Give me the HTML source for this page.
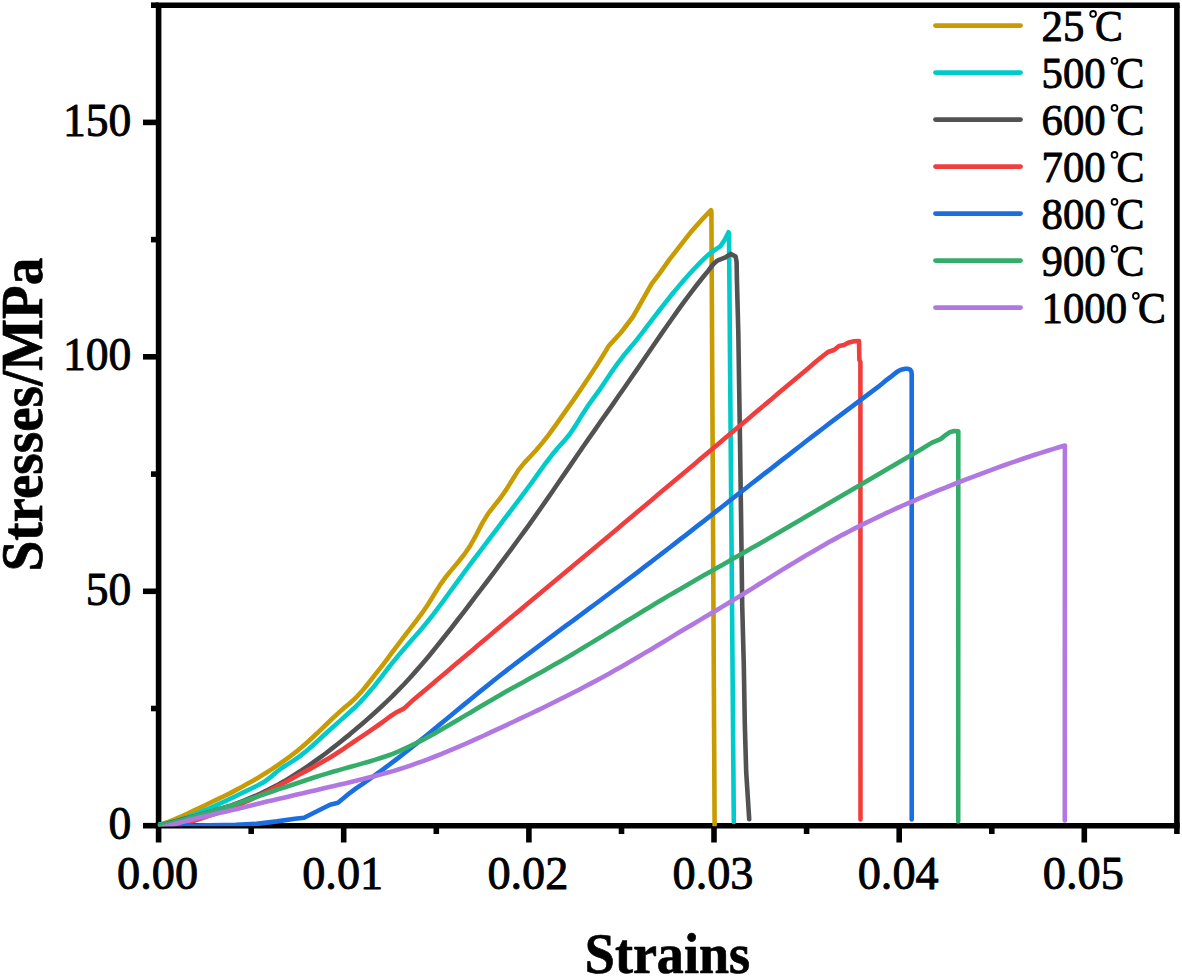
<!DOCTYPE html>
<html><head><meta charset="utf-8"><title>Stress-strain curves</title>
<style>
html,body{margin:0;padding:0;background:#fff;}
body{width:1182px;height:976px;overflow:hidden;font-family:"Liberation Serif",serif;}
svg{display:block;}
text{font-family:"Liberation Serif",serif;fill:#000;stroke:#000;stroke-width:0.9px;stroke-linejoin:round;}
.tk{font-size:46.3px;}
.lg{font-size:44px;}
.ax{font-weight:bold;stroke-width:0.7px;}
</style></head><body>
<svg width="1182" height="976" viewBox="0 0 1182 976">
<rect width="1182" height="976" fill="#fff"/>
<g stroke="#000" stroke-width="5.6" fill="none" stroke-linecap="butt">
<path d="M155.8,825.7 H1179.7"/>
<path d="M155.8,5.2 H1179.7"/>
<path d="M158.6,5.2 V825.7"/>
<path d="M1176.9,5.2 V825.7"/>
<path d="M158.6,825.7 V842.5"/>
<path d="M251.2,825.7 V834.0"/>
<path d="M343.7,825.7 V842.5"/>
<path d="M436.3,825.7 V834.0"/>
<path d="M528.9,825.7 V842.5"/>
<path d="M621.5,825.7 V834.0"/>
<path d="M714.0,825.7 V842.5"/>
<path d="M806.6,825.7 V834.0"/>
<path d="M899.2,825.7 V842.5"/>
<path d="M991.8,825.7 V834.0"/>
<path d="M1084.3,825.7 V842.5"/>
<path d="M1176.9,825.7 V834.0"/>
<path d="M158.6,825.7 H143.0"/>
<path d="M158.6,708.5 H151.0"/>
<path d="M158.6,591.3 H143.0"/>
<path d="M158.6,474.1 H151.0"/>
<path d="M158.6,356.8 H143.0"/>
<path d="M158.6,239.6 H151.0"/>
<path d="M158.6,122.4 H143.0"/>
<path d="M158.6,5.2 H151.0"/>
</g>
<clipPath id="pc"><rect x="157.9" y="0" width="1030.0" height="826.2"/></clipPath>
<g fill="none" stroke-width="4.6" stroke-linejoin="round" stroke-linecap="round" clip-path="url(#pc)">
<path d="M157.0,825.7 L163.0,823.7 L169.0,821.6 L175.1,819.2 L181.1,816.5 L187.1,813.8 L193.1,810.9 L199.2,808.1 L205.2,805.2 L211.2,802.3 L217.2,799.4 L223.3,796.5 L229.3,793.6 L235.3,790.4 L241.3,787.2 L247.4,783.8 L253.4,780.4 L259.4,776.9 L265.4,773.2 L271.5,769.4 L277.5,765.4 L283.5,761.2 L289.5,756.8 L295.6,752.2 L301.6,747.2 L307.6,742.0 L313.6,736.5 L319.6,730.8 L325.7,725.0 L331.7,719.2 L337.7,713.6 L343.7,708.3 L349.8,703.2 L355.8,697.8 L361.8,691.4 L367.8,684.0 L373.9,676.2 L379.9,668.6 L385.9,660.8 L391.9,652.7 L398.0,644.6 L404.0,636.6 L410.0,628.8 L416.0,621.1 L422.1,613.0 L428.1,604.2 L434.1,594.5 L440.1,584.9 L446.2,576.4 L452.2,569.1 L458.2,562.0 L464.2,554.5 L470.2,545.7 L476.3,534.8 L482.3,523.1 L488.3,513.4 L494.3,505.7 L500.4,498.0 L506.4,489.4 L512.4,479.7 L518.4,470.1 L524.5,462.6 L530.5,456.2 L536.5,449.8 L542.5,442.6 L548.6,434.8 L554.6,426.6 L560.6,418.2 L566.6,409.7 L572.7,401.1 L578.7,392.4 L584.7,383.5 L590.7,374.4 L596.8,365.2 L602.8,355.7 L608.8,345.9 L621.0,332.5 L632.8,317.0 L638.8,306.5 L651.6,283.9 L659.1,274.1 L669.7,259.2 L681.4,244.2 L691.4,231.4 L701.4,220.2 L711.0,210.2 L711.4,212.0 L714.6,825.0" stroke="#C89B00"/>
<path d="M156.0,824.9 L162.0,824.2 L168.0,823.1 L174.0,821.6 L180.0,819.8 L186.0,817.8 L192.0,815.5 L198.0,813.1 L204.0,810.6 L210.0,808.0 L216.0,805.3 L222.0,802.6 L227.9,799.9 L233.9,797.0 L239.9,794.0 L245.9,791.1 L251.9,788.2 L257.9,785.3 L263.9,782.1 L269.9,777.7 L275.9,772.5 L281.9,768.0 L287.9,764.1 L293.9,760.4 L299.9,756.1 L305.9,751.4 L311.9,746.2 L317.9,740.7 L323.9,735.2 L329.9,729.7 L335.9,724.4 L341.9,719.1 L347.9,713.8 L353.9,708.3 L359.9,702.4 L365.8,696.0 L371.8,689.1 L377.8,681.6 L383.8,673.9 L389.8,666.0 L395.8,658.6 L401.8,651.5 L407.8,644.6 L413.8,637.8 L419.8,630.9 L425.8,623.8 L431.8,616.3 L437.8,608.4 L443.8,600.3 L449.8,592.0 L455.8,583.8 L461.8,575.6 L467.8,567.5 L473.8,559.5 L479.8,551.6 L485.8,543.6 L491.8,535.7 L497.8,527.8 L503.7,519.9 L509.7,512.0 L515.7,504.1 L521.7,496.1 L527.7,488.0 L533.7,479.8 L539.7,471.4 L545.7,463.2 L551.7,455.3 L557.7,448.0 L563.7,441.4 L569.7,434.3 L575.7,425.4 L581.7,415.4 L587.7,406.2 L593.7,397.9 L599.7,389.6 L605.7,380.7 L611.7,371.8 L617.7,363.3 L623.7,355.5 L629.7,348.3 L635.7,341.1 L641.6,333.6 L647.6,325.7 L653.6,317.8 L659.6,310.0 L665.6,302.3 L671.6,294.8 L677.6,287.6 L683.6,280.5 L689.6,273.8 L695.6,267.3 L701.6,261.2 L707.6,255.3 L714.3,250.2 L720.3,246.4 L724.8,239.7 L728.5,232.2 L729.0,233.5 L733.8,822.0" stroke="#00CBCB"/>
<path d="M159.0,826.0 L165.0,824.1 L170.9,822.5 L176.9,820.9 L182.9,819.3 L188.9,817.7 L194.8,816.1 L200.8,814.5 L206.8,812.8 L212.7,811.1 L218.7,809.3 L224.7,807.5 L230.6,805.6 L236.6,803.4 L242.6,801.1 L248.6,798.7 L254.5,796.2 L260.5,793.5 L266.5,790.6 L272.4,787.6 L278.4,784.5 L284.4,781.1 L290.4,777.5 L296.3,773.8 L302.3,770.0 L308.3,765.9 L314.2,761.7 L320.2,757.4 L326.2,753.0 L332.1,748.4 L338.1,743.7 L344.1,738.9 L350.1,734.1 L356.0,729.1 L362.0,724.0 L368.0,718.8 L373.9,713.5 L379.9,708.0 L385.9,702.4 L391.9,696.7 L397.8,690.7 L403.8,684.5 L409.8,678.0 L415.7,671.4 L421.7,664.5 L427.7,657.4 L433.6,650.2 L439.6,642.8 L445.6,635.3 L451.6,627.7 L457.5,620.0 L463.5,612.3 L469.5,604.5 L475.4,596.7 L481.4,588.9 L487.4,581.0 L493.4,573.1 L499.3,565.1 L505.3,557.1 L511.3,549.1 L517.2,541.0 L523.2,532.8 L529.2,524.6 L535.2,516.2 L541.1,507.7 L547.1,499.1 L553.1,490.5 L559.0,481.8 L565.0,473.1 L571.0,464.4 L576.9,455.7 L582.9,447.0 L588.9,438.4 L594.9,429.9 L600.8,421.3 L606.8,412.8 L612.8,404.3 L618.7,395.8 L624.7,387.2 L630.7,378.5 L636.7,369.9 L642.6,361.2 L648.6,352.5 L654.6,343.8 L660.5,335.1 L666.5,326.5 L672.5,318.0 L678.4,309.6 L684.4,301.3 L690.4,293.3 L696.4,285.5 L702.3,278.0 L708.3,270.7 L713.0,264.5 L717.3,260.6 L724.8,257.7 L730.8,253.9 L735.6,256.6 L736.6,262.0 L736.9,279.4 L738.3,332.0 L740.0,441.0 L741.2,527.0 L742.2,605.0 L743.8,665.0 L744.8,724.0 L746.2,772.0 L749.2,819.3" stroke="#525252"/>
<path d="M159.0,828.1 L165.1,827.7 L171.2,826.8 L177.2,825.4 L183.3,823.8 L189.4,822.0 L195.5,820.2 L201.6,818.3 L207.6,816.3 L213.7,814.3 L219.8,812.2 L225.9,810.0 L231.9,807.7 L238.0,805.2 L244.1,802.5 L250.2,799.8 L256.3,796.9 L262.3,794.0 L268.4,791.0 L274.5,787.9 L280.6,784.7 L286.7,781.5 L292.7,778.2 L298.8,774.8 L304.9,771.6 L311.0,768.4 L317.1,765.0 L323.1,761.5 L329.2,757.9 L335.3,754.2 L341.4,750.3 L347.4,746.1 L353.5,742.0 L359.6,737.9 L365.7,733.8 L371.8,729.7 L377.8,725.5 L383.9,721.1 L390.0,716.5 L395.6,712.8 L403.8,708.6 L412.0,701.1 L418.0,696.0 L424.0,690.9 L430.0,685.9 L436.0,680.8 L442.0,675.8 L448.0,670.7 L454.0,665.6 L460.0,660.6 L466.0,655.5 L472.0,650.4 L478.0,645.3 L484.0,640.2 L490.0,635.2 L496.0,630.1 L502.0,625.0 L508.0,620.0 L514.0,615.0 L520.0,610.1 L526.0,605.1 L532.0,600.1 L538.0,595.1 L544.0,590.1 L550.0,585.1 L556.0,580.1 L562.0,575.1 L568.0,570.0 L574.0,565.0 L580.0,560.0 L586.0,555.0 L592.0,550.0 L598.0,545.0 L604.0,539.9 L610.0,534.9 L616.0,529.9 L622.0,524.8 L628.0,519.8 L634.0,514.8 L640.0,509.7 L646.0,504.7 L652.0,499.7 L658.0,494.6 L664.0,489.6 L670.0,484.5 L676.0,479.5 L682.0,474.5 L688.0,469.4 L694.0,464.4 L700.0,459.3 L706.0,454.3 L712.0,449.2 L718.0,444.2 L724.0,439.1 L730.0,434.1 L736.0,429.0 L742.0,424.0 L748.0,418.9 L754.0,413.8 L760.0,408.8 L766.0,403.7 L772.0,398.7 L778.0,393.6 L784.0,388.6 L790.0,383.5 L796.0,378.5 L802.0,373.4 L808.0,368.4 L814.0,363.3 L820.0,358.3 L828.0,352.0 L834.0,350.0 L839.0,346.0 L844.0,345.0 L849.0,342.4 L854.0,341.2 L859.0,341.0 L859.4,360.0 L860.4,362.0 L860.5,819.5" stroke="#F03E3E"/>
<path d="M159.0,825.5 L195.0,825.6 L236.0,824.9 L256.5,823.9 L277.0,821.4 L295.0,818.8 L304.0,817.8 L320.0,809.8 L330.0,804.8 L338.0,802.8 L350.0,792.8 L356.0,788.4 L362.0,784.4 L368.0,780.2 L374.0,775.9 L380.0,771.6 L386.0,767.2 L392.0,762.7 L398.0,758.1 L404.0,753.5 L410.0,748.7 L416.0,743.9 L422.0,739.1 L428.0,734.2 L434.0,729.3 L440.0,724.4 L446.0,719.4 L452.0,714.5 L458.0,709.5 L464.0,704.6 L470.0,699.7 L476.0,694.8 L482.0,689.9 L488.0,685.1 L494.0,680.3 L500.0,675.5 L506.0,670.9 L512.0,666.2 L518.0,661.7 L524.0,657.1 L530.0,652.6 L536.0,648.1 L542.0,643.6 L548.0,639.1 L554.0,634.6 L560.0,630.2 L566.0,625.7 L572.0,621.3 L578.0,616.8 L584.0,612.4 L590.0,607.9 L596.0,603.5 L602.0,599.0 L608.0,594.5 L614.0,590.0 L620.1,585.5 L626.1,580.9 L632.1,576.4 L638.1,571.8 L644.1,567.2 L650.1,562.6 L656.1,558.0 L662.1,553.4 L668.1,548.7 L674.1,544.1 L680.1,539.4 L686.1,534.8 L692.1,530.1 L698.1,525.4 L704.1,520.8 L710.1,516.1 L716.1,511.4 L722.1,506.7 L728.1,502.0 L734.1,497.3 L740.1,492.7 L746.1,488.0 L752.1,483.3 L758.1,478.6 L764.1,473.9 L770.1,469.3 L776.1,464.6 L782.1,459.9 L788.1,455.3 L794.1,450.6 L800.1,446.0 L806.1,441.3 L812.1,436.7 L818.1,432.1 L824.1,427.5 L830.1,422.9 L836.1,418.4 L842.1,413.8 L848.1,409.3 L854.1,404.8 L860.1,400.3 L866.1,395.8 L872.1,391.3 L878.1,386.9 L885.0,381.2 L891.7,376.1 L895.5,373.0 L898.6,370.8 L902.0,369.4 L905.4,368.7 L908.0,368.8 L910.1,369.6 L911.4,371.5 L911.7,374.0 L911.7,819.5" stroke="#1A6EE0"/>
<path d="M159.0,826.1 L165.0,824.4 L171.0,822.9 L177.0,821.3 L183.0,819.7 L189.0,818.0 L195.0,816.3 L200.9,814.6 L206.9,812.9 L212.9,811.1 L218.9,809.3 L224.9,807.5 L230.9,805.6 L236.9,803.6 L242.9,801.6 L248.9,799.5 L254.9,797.5 L260.9,795.4 L266.9,793.3 L272.9,791.3 L278.8,789.2 L284.8,787.2 L290.8,785.2 L296.8,783.2 L302.8,781.2 L308.8,779.2 L314.8,777.3 L320.8,775.4 L326.8,773.6 L332.8,771.8 L338.8,770.1 L344.8,768.4 L350.7,766.7 L356.7,765.1 L362.7,763.4 L368.7,761.7 L374.7,759.9 L380.7,758.0 L386.7,756.0 L392.7,753.8 L398.7,751.4 L404.7,748.7 L410.7,745.9 L416.7,742.9 L422.7,739.9 L428.6,736.7 L434.6,733.4 L440.6,730.0 L446.6,726.5 L452.6,723.0 L458.6,719.5 L464.6,715.9 L470.6,712.4 L476.6,708.8 L482.6,705.2 L488.6,701.7 L494.6,698.2 L500.6,694.7 L506.5,691.3 L512.5,688.0 L518.5,684.7 L524.5,681.4 L530.5,678.0 L536.5,674.7 L542.5,671.4 L548.5,668.0 L554.5,664.6 L560.5,661.2 L566.5,657.7 L572.5,654.2 L578.4,650.6 L584.4,647.0 L590.4,643.4 L596.4,639.8 L602.4,636.1 L608.4,632.4 L614.4,628.7 L620.4,625.0 L626.4,621.3 L632.4,617.6 L638.4,614.0 L644.4,610.3 L650.4,606.7 L656.3,603.0 L662.3,599.5 L668.3,595.9 L674.3,592.4 L680.3,588.9 L686.3,585.4 L692.3,582.0 L698.3,578.5 L704.3,575.1 L710.3,571.7 L716.3,568.3 L722.3,564.9 L728.3,561.5 L734.2,558.1 L740.2,554.7 L746.2,551.2 L752.2,547.8 L758.2,544.4 L764.2,540.9 L770.2,537.5 L776.2,534.0 L782.2,530.5 L788.2,527.0 L794.2,523.6 L800.2,520.1 L806.1,516.6 L812.1,513.1 L818.1,509.6 L824.1,506.1 L830.1,502.5 L836.1,499.0 L842.1,495.5 L848.1,492.0 L854.1,488.5 L860.1,485.0 L866.1,481.5 L872.1,478.0 L878.1,474.5 L884.0,471.0 L890.0,467.5 L896.0,464.0 L902.0,460.5 L908.0,457.0 L914.0,453.5 L920.0,450.0 L932.0,442.6 L938.1,440.2 L940.8,438.9 L946.2,434.6 L950.3,431.9 L954.4,431.0 L958.3,431.3 L958.2,821.5" stroke="#34AD6A"/>
<path d="M159.0,828.6 L165.0,826.8 L171.0,825.1 L177.0,823.5 L183.0,821.9 L189.0,820.3 L195.0,818.8 L201.0,817.3 L207.0,815.9 L213.0,814.5 L219.0,813.1 L225.0,811.7 L231.0,810.3 L237.0,808.9 L243.0,807.4 L249.0,805.9 L255.0,804.5 L261.0,803.1 L267.0,801.6 L273.0,800.2 L279.0,798.8 L285.0,797.4 L291.0,796.0 L297.0,794.6 L303.0,793.2 L309.0,791.8 L315.0,790.4 L321.0,789.0 L327.0,787.6 L333.0,786.2 L339.0,784.8 L345.0,783.4 L351.0,782.0 L357.0,780.5 L363.0,779.1 L369.0,777.6 L375.0,776.0 L381.0,774.4 L387.0,772.8 L393.0,771.1 L399.0,769.3 L405.0,767.4 L411.0,765.3 L417.0,763.2 L423.0,761.1 L429.0,758.8 L435.0,756.5 L441.0,754.1 L447.0,751.7 L453.0,749.2 L459.0,746.6 L465.0,744.0 L471.0,741.4 L477.0,738.7 L483.0,736.0 L489.0,733.2 L495.0,730.4 L501.0,727.6 L507.0,724.8 L513.0,722.0 L519.0,719.2 L525.0,716.3 L531.0,713.5 L537.0,710.6 L543.0,707.7 L549.0,704.8 L555.0,701.8 L561.0,698.8 L567.0,695.8 L573.0,692.7 L579.0,689.7 L585.0,686.5 L591.0,683.4 L597.0,680.2 L603.0,676.9 L609.0,673.7 L614.9,670.3 L620.9,666.9 L626.9,663.5 L632.9,660.0 L638.9,656.5 L644.9,652.9 L650.9,649.4 L656.9,645.8 L662.9,642.2 L668.9,638.6 L674.9,634.9 L680.9,631.3 L686.9,627.8 L692.9,624.2 L698.9,620.6 L704.9,617.1 L710.9,613.5 L716.9,610.0 L722.9,606.4 L728.9,602.8 L734.9,599.1 L740.9,595.5 L746.9,591.8 L752.9,588.1 L758.9,584.3 L764.9,580.6 L770.9,576.9 L776.9,573.1 L782.9,569.4 L788.9,565.8 L794.9,562.1 L800.9,558.5 L806.9,554.9 L812.9,551.4 L818.9,547.9 L824.9,544.5 L830.9,541.1 L836.9,537.9 L842.9,534.6 L848.9,531.5 L854.9,528.4 L860.9,525.4 L866.9,522.4 L872.9,519.5 L878.9,516.6 L884.9,513.7 L890.9,511.0 L896.9,508.2 L902.9,505.5 L908.9,502.9 L914.9,500.3 L920.9,497.7 L926.9,495.2 L932.9,492.7 L938.9,490.2 L944.9,487.8 L950.9,485.4 L956.9,483.0 L962.9,480.7 L968.9,478.4 L974.9,476.1 L980.9,473.8 L986.9,471.6 L992.9,469.4 L998.9,467.2 L1004.9,465.0 L1010.9,462.9 L1016.9,460.8 L1022.9,458.8 L1028.9,456.8 L1034.9,454.8 L1040.9,452.9 L1046.9,451.0 L1052.9,449.1 L1058.9,447.3 L1064.9,445.5 L1064.8,820.5" stroke="#B078E0"/>
</g>
<text class="tk" transform="translate(157.6,889) scale(1,1)" text-anchor="middle">0.00</text>
<text class="tk" transform="translate(342.7,889) scale(1,1)" text-anchor="middle">0.01</text>
<text class="tk" transform="translate(527.9,889) scale(1,1)" text-anchor="middle">0.02</text>
<text class="tk" transform="translate(713.0,889) scale(1,1)" text-anchor="middle">0.03</text>
<text class="tk" transform="translate(898.2,889) scale(1,1)" text-anchor="middle">0.04</text>
<text class="tk" transform="translate(1083.3,889) scale(1,1)" text-anchor="middle">0.05</text>
<text class="tk" transform="translate(131.3,839.2) scale(0.985,1)" text-anchor="end">0</text>
<text class="tk" transform="translate(131.3,604.8) scale(0.985,1)" text-anchor="end">50</text>
<text class="tk" transform="translate(131.3,370.3) scale(0.985,1)" text-anchor="end">100</text>
<text class="tk" transform="translate(131.3,135.9) scale(0.985,1)" text-anchor="end">150</text>
<text class="ax" font-size="56" transform="translate(667.4,972.5) scale(0.965,1)" text-anchor="middle">Strains</text>
<text class="ax" font-size="59" transform="translate(42.3,414.6) rotate(-90) scale(0.932,1)" text-anchor="middle">Stresses/MPa</text>
<path d="M935.5,25.6 H1020.5" stroke="#C89B00" stroke-width="4.8" stroke-linecap="round" fill="none"/>
<text class="lg" transform="translate(1041.5,40.6) scale(0.972,1)">25</text>
<circle cx="1093.1" cy="13.9" r="2.9" fill="none" stroke="#000" stroke-width="1.8"/>
<text class="lg" transform="translate(1095.1,40.6) scale(0.95,1)">C</text>
<path d="M935.5,72.6 H1020.5" stroke="#00CBCB" stroke-width="4.8" stroke-linecap="round" fill="none"/>
<text class="lg" transform="translate(1041.5,87.6) scale(0.972,1)">500</text>
<circle cx="1114.5" cy="60.9" r="2.9" fill="none" stroke="#000" stroke-width="1.8"/>
<text class="lg" transform="translate(1116.5,87.6) scale(0.95,1)">C</text>
<path d="M935.5,119.6 H1020.5" stroke="#525252" stroke-width="4.8" stroke-linecap="round" fill="none"/>
<text class="lg" transform="translate(1041.5,134.6) scale(0.972,1)">600</text>
<circle cx="1114.5" cy="107.9" r="2.9" fill="none" stroke="#000" stroke-width="1.8"/>
<text class="lg" transform="translate(1116.5,134.6) scale(0.95,1)">C</text>
<path d="M935.5,166.6 H1020.5" stroke="#F03E3E" stroke-width="4.8" stroke-linecap="round" fill="none"/>
<text class="lg" transform="translate(1041.5,181.6) scale(0.972,1)">700</text>
<circle cx="1114.5" cy="154.9" r="2.9" fill="none" stroke="#000" stroke-width="1.8"/>
<text class="lg" transform="translate(1116.5,181.6) scale(0.95,1)">C</text>
<path d="M935.5,213.6 H1020.5" stroke="#1A6EE0" stroke-width="4.8" stroke-linecap="round" fill="none"/>
<text class="lg" transform="translate(1041.5,228.6) scale(0.972,1)">800</text>
<circle cx="1114.5" cy="201.9" r="2.9" fill="none" stroke="#000" stroke-width="1.8"/>
<text class="lg" transform="translate(1116.5,228.6) scale(0.95,1)">C</text>
<path d="M935.5,260.6 H1020.5" stroke="#34AD6A" stroke-width="4.8" stroke-linecap="round" fill="none"/>
<text class="lg" transform="translate(1041.5,275.6) scale(0.972,1)">900</text>
<circle cx="1114.5" cy="248.9" r="2.9" fill="none" stroke="#000" stroke-width="1.8"/>
<text class="lg" transform="translate(1116.5,275.6) scale(0.95,1)">C</text>
<path d="M935.5,307.6 H1020.5" stroke="#B078E0" stroke-width="4.8" stroke-linecap="round" fill="none"/>
<text class="lg" transform="translate(1041.5,322.6) scale(0.972,1)">1000</text>
<circle cx="1135.9" cy="295.9" r="2.9" fill="none" stroke="#000" stroke-width="1.8"/>
<text class="lg" transform="translate(1137.9,322.6) scale(0.95,1)">C</text>
</svg>
</body></html>
